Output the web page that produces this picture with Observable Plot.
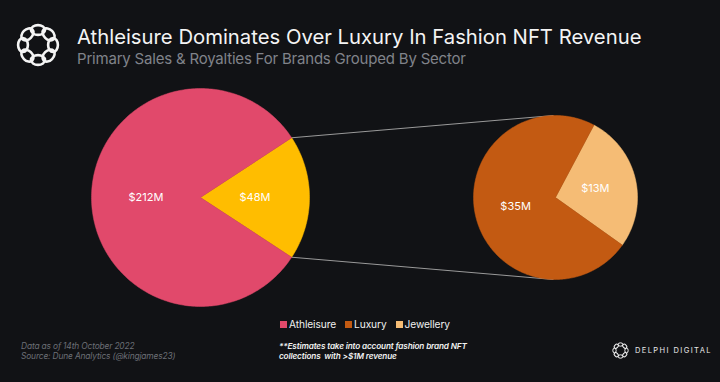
<!DOCTYPE html>
<html>
<head>
<meta charset="utf-8">
<script src="https://cdn.jsdelivr.net/npm/d3@7"></script>
<script src="https://cdn.jsdelivr.net/npm/@observablehq/plot@0.6"></script>
<style>
  html, body { margin: 0; padding: 0; background: #111215; }
  #wrap { position: relative; width: 720px; height: 382px; overflow: hidden; background: #111215; font-family: Inter, "DejaVu Sans", sans-serif; }
  #chart { position: absolute; left: 0; top: 0; }
  .abs { position: absolute; white-space: nowrap; }
  #title { left: 77px; top: 24px; font-size: 20.3px; color: #f4f4f4; letter-spacing: 0px; }
  #subtitle { left: 77px; top: 49px; font-size: 15px; color: #80838a; letter-spacing: -0.2px; }
  #legend { left: 280px; top: 318px; font-size: 10.2px; color: #f0f0f0; display: flex; gap: 9px; letter-spacing: -0.1px; }
  #legend span.sw { display: inline-block; width: 7px; height: 7px; margin-right: 2px; vertical-align: 0px; }
  .note { font-style: italic; font-size: 8.4px; line-height: 10px; letter-spacing: -0.15px; }
  #srcnote { left: 21px; top: 341px; color: #6c6f75; }
  #estnote { left: 279px; top: 341px; color: #f2f2f2; font-weight: 600; font-size: 8.2px; }
  #brand { left: 612px; top: 342px; color: #e8e8e8; font-size: 7.5px; letter-spacing: 1.4px; display: flex; align-items: center; gap: 6px; }
</style>
</head>
<body>
<div id="wrap">
  <div id="chart"></div>
  <svg class="abs" style="left:14px;top:21px" width="48" height="48" viewBox="-24 -24 48 48" id="logo"></svg>
  <div class="abs" id="title">Athleisure Dominates Over Luxury In Fashion NFT Revenue</div>
  <div class="abs" id="subtitle">Primary Sales &amp; Royalties For Brands Grouped By Sector</div>
  <div class="abs" id="legend"></div>
  <div class="abs note" id="srcnote">Data as of 14th October 2022<br>Source: Dune Analytics (@kingjames23)</div>
  <div class="abs note" id="estnote">**Estimates take into account fashion brand NFT<br>collections&nbsp; with &gt;$1M revenue</div>
  <div class="abs" id="brand"><svg width="17" height="17" viewBox="-8.5 -8.5 17 17" id="logo2"></svg><span>DELPHI DIGITAL</span></div>
</div>
<script>
// ---- Data ----
const mainSectors = ["Luxury", "Athleisure"];
const mainValues = [48, 212];
const mainLabels = ["$48M", "$212M"];
const mainColors = ["#ffbd00", "#e1496b"];

const subSectors = ["Jewellery", "Luxury"];
const subValues = [13, 35];
const subLabels = ["$13M", "$35M"];
const subColors = ["#f5bc75", "#c35a12"];

const legendNames = ["Athleisure", "Luxury", "Jewellery"];
const legendColors = ["#e1496b", "#c35a12", "#f5bc75"];

// ---- Layout (pixel space) ----
const W = 720, H = 382;
const big = {cx: 200, cy: 197, r: 109};
const small = {cx: 555, cy: 197, r: 82};
const deg = Math.PI / 180;

function pt(c, a, rr) { return [c.cx + rr * Math.sin(a), c.cy - rr * Math.cos(a)]; }

function slices(c, names, values, labels, colors, startAngle) {
  const arcs = d3.pie().sort(null).startAngle(startAngle).endAngle(startAngle + 2 * Math.PI)(values);
  const polys = [], labs = [];
  arcs.forEach((a, i) => {
    const n = Math.max(4, Math.ceil((a.endAngle - a.startAngle) / deg));
    polys.push({id: c.cx + names[i], x: c.cx, y: c.cy, color: colors[i]});
    for (let k = 0; k <= n; k++) {
      const t = a.startAngle + (a.endAngle - a.startAngle) * k / n;
      const [x, y] = pt(c, t, c.r);
      polys.push({id: c.cx + names[i], x, y, color: colors[i]});
    }
    polys.push({id: c.cx + names[i], x: c.cx, y: c.cy, color: colors[i]});
    const mid = (a.startAngle + a.endAngle) / 2;
    const [lx, ly] = pt(c, mid, c.r * 0.5);
    labs.push({x: lx, y: ly, label: labels[i]});
  });
  return {arcs, polys, labs};
}

const bigStart = Math.PI / 2 - (mainValues[0] / d3.sum(mainValues)) * Math.PI;
const B = slices(big, mainSectors, mainValues, mainLabels, mainColors, bigStart);
const S = slices(small, subSectors, subValues, subLabels, subColors, 28 * deg);

const lux = B.arcs[0];
const p1 = pt(big, lux.startAngle, big.r), p2 = pt(big, lux.endAngle, big.r);
const links = [
  {x1: p1[0], y1: p1[1], x2: small.cx - 2, y2: small.cy - small.r},
  {x1: p2[0], y1: p2[1], x2: small.cx - 2, y2: small.cy + small.r}
];

const chart = Plot.plot({
  width: W, height: H,
  margin: 0,
  style: {background: "transparent", fontFamily: "Inter, sans-serif"},
  x: {domain: [0, W], range: [0, W], axis: null},
  y: {domain: [0, H], range: [0, H], axis: null},
  marks: [
    Plot.link(links, {x1: "x1", y1: "y1", x2: "x2", y2: "y2", stroke: "#9a9a9a", strokeWidth: 1}),
    Plot.line(B.polys, {x: "x", y: "y", z: "id", fill: d => d.color, stroke: d => d.color, strokeWidth: 0.5, curve: "linear"}),
    Plot.line(S.polys, {x: "x", y: "y", z: "id", fill: d => d.color, stroke: d => d.color, strokeWidth: 0.5, curve: "linear"}),
    Plot.text([...B.labs, ...S.labs], {x: "x", y: "y", text: "label", fill: "white", fontSize: 11})
  ]
});
document.getElementById("chart").appendChild(chart);

// legend
const leg = document.getElementById("legend");
legendNames.forEach((n, i) => {
  const s = document.createElement("span");
  s.innerHTML = `<span class="sw" style="background:${legendColors[i]}"></span>${n}`;
  leg.appendChild(s);
});

// logos (decorative)
function drawLogo(id, R, rr, sw) {
  const svg = d3.select("#" + id);
  for (let k = 0; k < 8; k++) {
    const a = k * Math.PI / 4;
    svg.append("ellipse").attr("cx", R * Math.cos(a)).attr("cy", R * Math.sin(a))
      .attr("rx", rr).attr("ry", rr * 0.7)
      .attr("transform", `rotate(${k * 45 + 90} ${R * Math.cos(a)} ${R * Math.sin(a)})`)
      .attr("fill", "none").attr("stroke", "#f4f4f4").attr("stroke-width", sw);
  }
}
drawLogo("logo", 15, 7, 2.6);
drawLogo("logo2", 6, 2.4, 1);
</script>
</body>
</html>
